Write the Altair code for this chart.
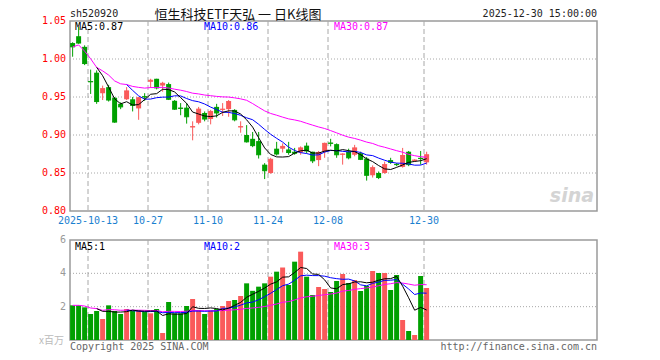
import altair as alt
import pandas as pd

# ---------------- data ----------------
dates = [
    "2025-09-30", "2025-10-09", "2025-10-10", "2025-10-13", "2025-10-14", "2025-10-15", "2025-10-16",
    "2025-10-17", "2025-10-20", "2025-10-21", "2025-10-22", "2025-10-23", "2025-10-24", "2025-10-27",
    "2025-10-28", "2025-10-29", "2025-10-30", "2025-10-31", "2025-11-03", "2025-11-04", "2025-11-05",
    "2025-11-06", "2025-11-07", "2025-11-10", "2025-11-11", "2025-11-12", "2025-11-13", "2025-11-14",
    "2025-11-17", "2025-11-18", "2025-11-19", "2025-11-20", "2025-11-21", "2025-11-24", "2025-11-25",
    "2025-11-26", "2025-11-27", "2025-11-28", "2025-12-01", "2025-12-02", "2025-12-03", "2025-12-04",
    "2025-12-05", "2025-12-08", "2025-12-09", "2025-12-10", "2025-12-11", "2025-12-12", "2025-12-15",
    "2025-12-16", "2025-12-17", "2025-12-18", "2025-12-19", "2025-12-22", "2025-12-23", "2025-12-24",
    "2025-12-25", "2025-12-26", "2025-12-29", "2025-12-30",
]
opens = [1.021, 1.030, 1.016, 0.971, 0.982, 0.955, 0.963, 0.949, 0.941, 0.947,
         0.947, 0.935, 0.951, 0.970, 0.974, 0.965, 0.967, 0.945, 0.936, 0.936,
         0.910, 0.916, 0.929, 0.921, 0.937, 0.933, 0.934, 0.933, 0.910, 0.900,
         0.895, 0.892, 0.861, 0.850, 0.882, 0.882, 0.881, 0.878, 0.877, 0.886,
         0.878, 0.867, 0.878, 0.890, 0.888, 0.874, 0.878, 0.874, 0.876, 0.869,
         0.847, 0.850, 0.850, 0.867, 0.862, 0.858, 0.878, 0.866, 0.870, 0.864]
highs = [1.022, 1.042, 1.018, 0.986, 0.985, 0.965, 0.966, 0.950, 0.943, 0.963,
         0.950, 0.950, 0.955, 0.974, 0.974, 0.970, 0.969, 0.946, 0.942, 0.942,
         0.918, 0.937, 0.931, 0.933, 0.941, 0.942, 0.946, 0.934, 0.918, 0.913,
         0.904, 0.904, 0.863, 0.870, 0.891, 0.889, 0.891, 0.883, 0.885, 0.890,
         0.878, 0.879, 0.890, 0.895, 0.889, 0.876, 0.882, 0.887, 0.878, 0.871,
         0.860, 0.852, 0.865, 0.870, 0.863, 0.883, 0.879, 0.868, 0.879, 0.878]
lows = [1.003, 1.020, 0.992, 0.954, 0.941, 0.946, 0.944, 0.916, 0.934, 0.946,
        0.931, 0.920, 0.945, 0.962, 0.960, 0.957, 0.946, 0.933, 0.926, 0.915,
        0.893, 0.914, 0.918, 0.914, 0.923, 0.925, 0.924, 0.918, 0.903, 0.890,
        0.884, 0.869, 0.842, 0.849, 0.873, 0.877, 0.874, 0.874, 0.874, 0.876,
        0.863, 0.859, 0.870, 0.885, 0.870, 0.861, 0.868, 0.872, 0.867, 0.840,
        0.844, 0.842, 0.849, 0.862, 0.859, 0.857, 0.859, 0.865, 0.861, 0.861]
closes = [1.016, 1.021, 0.994, 0.970, 0.944, 0.961, 0.946, 0.917, 0.937, 0.958,
          0.939, 0.949, 0.950, 0.972, 0.962, 0.968, 0.947, 0.934, 0.935, 0.924,
          0.911, 0.934, 0.921, 0.931, 0.929, 0.934, 0.944, 0.920, 0.911, 0.891,
          0.886, 0.874, 0.853, 0.868, 0.875, 0.885, 0.877, 0.876, 0.883, 0.879,
          0.866, 0.877, 0.889, 0.889, 0.874, 0.875, 0.870, 0.883, 0.868, 0.847,
          0.857, 0.844, 0.861, 0.864, 0.861, 0.873, 0.861, 0.867, 0.869, 0.874]
volumes = [2.08, 2.08, 1.96, 1.56, 1.74, 1.26, 2.08, 1.74, 1.56, 1.86,
           1.74, 1.80, 1.68, 1.60, 1.86, 0.42, 2.28, 1.60, 1.60, 2.04,
           2.46, 1.80, 1.56, 1.76, 1.86, 2.04, 2.34, 2.40, 2.64, 3.40,
           2.95, 3.20, 3.40, 3.80, 4.10, 4.35, 3.30, 4.70, 5.30, 3.80,
           2.70, 3.18, 3.06, 2.88, 3.54, 3.96, 3.42, 3.60, 2.94, 3.24,
           4.14, 4.02, 4.02, 3.00, 3.90, 1.20, 0.54, 0.30, 3.84, 3.12]

tick_dates = ["2025-10-13", "2025-10-27", "2025-11-10", "2025-11-24", "2025-12-08", "2025-12-30"]
tick_labels = ["2025-10-13", "10-27", "11-10", "11-24", "12-08", "12-30"]
price_ticks = [1.05, 1.00, 0.95, 0.90, 0.85, 0.80]
price_grid = [1.00, 0.95, 0.90, 0.85]
vol_ticks = [6, 4, 2]
vol_grid = [4, 2]

price_legend = ["MA5:0.87", "MA10:0.86", "MA30:0.87"]
vol_legend = ["MA5:1", "MA10:2", "MA30:3"]
ma_colors = ["#000000", "#0000ff", "#ff00ff"]

code_text = "sh520920"
title_text = "恒生科技ETF天弘 一 日K线图"
time_text = "2025-12-30 15:00:00"
unit_text = "x百万"
copyright_text = "Copyright 2025 SINA.COM"
url_text = "http://finance.sina.com.cn"

# ---------------- styles ----------------
RED = "#fa5a5a"
GREEN = "#00a000"
GRID = "#a8a8a8"
FRAME = "#9a9a9a"
MONO = "DejaVu Sans Mono"
CJK = "Noto Sans CJK SC"
W, H = 527, 319
XMAX = 87.83

df = pd.DataFrame({"date": dates, "open": opens, "high": highs, "low": lows,
                   "close": closes, "vol": volumes})
df["i"] = range(len(df))

ticks_df = pd.DataFrame({"i": [dates.index(d) for d in tick_dates], "label": tick_labels})
pt_df = pd.DataFrame({"p": price_ticks})
pg_df = pd.DataFrame({"p": price_grid})
vt_df = pd.DataFrame({"v": vol_ticks})
vg_df = pd.DataFrame({"v": vol_grid})
one = pd.DataFrame({"k": [0]})

XS = alt.Scale(domain=[0, XMAX], nice=False, zero=False)
PS = alt.Scale(domain=[0.80, 1.05], range=[190, 0], nice=False, zero=False)
VS = alt.Scale(domain=[0, 6], range=[319, 219], nice=False, zero=False)

base = alt.Chart(df).transform_calculate(
    xl="datum.i + 0.02", xr="datum.i + 0.85", xc="datum.i + 0.44", zero="0",
    dir="datum.close >= datum.open ? 'up' : 'down'"
)
color = alt.Color("dir:N", scale=alt.Scale(domain=["up", "down"], range=[RED, GREEN]), legend=None)

def xq(f):
    return alt.X(f, type="quantitative", scale=XS, axis=None)

layers = []

# frames
for top, bot, sc in [(1.05, 0.80, PS), (6, 0, VS)]:
    layers.append(alt.Chart(one).mark_rect(fill="transparent", stroke=FRAME, strokeWidth=1.5).encode(
        x=alt.X(datum=0, scale=XS, axis=None), x2=alt.X2(datum=XMAX),
        y=alt.Y(datum=top, scale=sc, axis=None), y2=alt.Y2(datum=bot)))

# dashed vertical grid
for top, bot, sc in [(1.05, 0.80, PS), (6, 0, VS)]:
    layers.append(alt.Chart(ticks_df).mark_rule(color=GRID, strokeDash=[5, 3], strokeWidth=1).encode(
        x=xq("i"), y=alt.Y(datum=top, scale=sc, axis=None), y2=alt.Y2(datum=bot)))

# dotted horizontal grid
layers.append(alt.Chart(pg_df).mark_rule(color=GRID, strokeDash=[1, 2], strokeWidth=1).encode(
    y=alt.Y("p:Q", scale=PS, axis=None), x=alt.X(datum=0, scale=XS, axis=None), x2=alt.X2(datum=XMAX)))
layers.append(alt.Chart(vg_df).mark_rule(color=GRID, strokeDash=[1, 2], strokeWidth=1).encode(
    y=alt.Y("v:Q", scale=VS, axis=None), x=alt.X(datum=0, scale=XS, axis=None), x2=alt.X2(datum=XMAX)))

# volume bars
layers.append(base.mark_bar().encode(
    x=xq("xl"), x2="xr:Q", y=alt.Y("vol:Q", scale=VS, axis=None), y2="zero:Q", color=color))

# candles
layers.append(base.mark_rule(strokeWidth=1).encode(
    x=xq("xc"), y=alt.Y("low:Q", scale=PS, axis=None), y2="high:Q", color=color))
layers.append(base.mark_bar().encode(
    x=xq("xl"), x2="xr:Q", y=alt.Y("open:Q", scale=PS, axis=None), y2="close:Q", color=color))
layers.append(base.mark_rule(strokeWidth=1).encode(
    x=xq("xl"), x2="xr:Q", y=alt.Y("close:Q", scale=PS, axis=None), color=color))

# moving averages
for field, sc in [("close", PS), ("vol", VS)]:
    for n, start, col in [(30, 0, ma_colors[2]), (10, 9, ma_colors[1]), (5, 4, ma_colors[0])]:
        layers.append(base.transform_window(
            ma=f"mean({field})", frame=[-(n - 1), 0], sort=[alt.SortField("i")]
        ).transform_filter(f"datum.i >= {start}").mark_line(color=col, strokeWidth=1).encode(
            x=xq("xc"), y=alt.Y("ma:Q", scale=sc, axis=None)))

# axis labels
layers.append(alt.Chart(pt_df).mark_text(align="right", baseline="middle", color="#ff0000",
                                         font=MONO, fontSize=10).encode(
    y=alt.Y("p:Q", scale=PS, axis=None), x=alt.value(-4), text=alt.Text("p:Q", format=".2f")))
layers.append(alt.Chart(vt_df).mark_text(align="right", baseline="middle", color="#999999",
                                         font=MONO, fontSize=10).encode(
    y=alt.Y("v:Q", scale=VS, axis=None), x=alt.value(-4), text=alt.Text("v:Q", format="d")))
layers.append(alt.Chart(ticks_df).mark_text(align="center", baseline="middle", color="#1a80d0",
                                            font=MONO, fontSize=10).encode(
    x=xq("i"), y=alt.value(200), text="label:N"))

# legends inside panels
leg_x = [5, 134, 264]
for k in range(3):
    layers.append(alt.Chart(one).mark_text(align="left", baseline="middle", color=ma_colors[k],
                                           font=MONO, fontSize=10).encode(
        x=alt.value(leg_x[k]), y=alt.value(6), text=alt.value(price_legend[k])))
    layers.append(alt.Chart(one).mark_text(align="left", baseline="middle", color=ma_colors[k],
                                           font=MONO, fontSize=10).encode(
        x=alt.value(leg_x[k]), y=alt.value(226), text=alt.value(vol_legend[k])))

# header / footer texts
def txt(s, x, y, align, color, font=MONO, size=10, baseline="middle", **kw):
    return alt.Chart(one).mark_text(align=align, baseline=baseline, color=color, font=font,
                                    fontSize=size, **kw).encode(
        x=alt.value(x), y=alt.value(y), text=alt.value(s))

layers.append(txt(code_text, 0, -7, "left", "#222222"))
layers.append(txt(title_text, 168, -2, "center", "#111111", font=CJK, size=13,
                  baseline="alphabetic"))
layers.append(txt(time_text, W, -7, "right", "#222222"))
layers.append(txt(unit_text, -6, 320, "right", "#bbbbbb", font=CJK, size=10))
layers.append(txt(copyright_text, 0, 326, "left", "#666666"))
layers.append(txt(url_text, W, 326, "right", "#666666"))
layers.append(txt("sina", W - 3, 175, "right", "#d4d4d4", font="DejaVu Sans", size=19,
                  fontStyle="italic", fontWeight="bold"))

chart = alt.layer(*layers).resolve_scale(y="independent").properties(
    width=W, height=H,
    autosize=alt.AutoSizeParams(type="none"),
    padding={"left": 62, "top": 13, "right": 30, "bottom": 20},
).configure_view(strokeWidth=0)

chart.save("out.html", embed_options={"renderer": "svg", "actions": False})
